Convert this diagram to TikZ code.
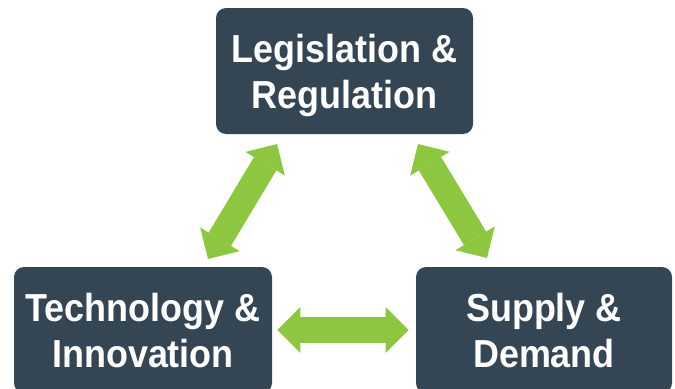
\documentclass[tikz,border=0pt]{standalone}
\usepackage{fontspec}
\newfontfamily\boxfont[FakeStretch=0.92]{Liberation Sans}
\usetikzlibrary{arrows.meta,calc}
\definecolor{boxc}{HTML}{344554}
\definecolor{arrc}{HTML}{8DC63F}
\newcommand\tstrut{\rule{0pt}{31pt}}
\newcommand\bstrut{\rule[-10pt]{0pt}{10pt}}
\begin{document}
\begin{tikzpicture}[x=0.75pt,y=-0.75pt,
  box/.style={fill=boxc, rounded corners=7.5pt, minimum width=192.75pt,
    minimum height=94.5pt, inner sep=0pt, text=white, align=center,
    font=\boxfont\bfseries\fontsize{29.3pt}{34.5pt}\selectfont},
  dbl/.style={draw=arrc, line width=19.5pt,
    {Triangle[length=17.25pt,width=34.5pt,line width=0pt]}-{Triangle[length=17.25pt,width=34.5pt,line width=0pt]}}]
\useasboundingbox (0,0) rectangle (675,389);
\node[box] (leg) at (344.5,71) {\tstrut Legislation \&\\Regulation\bstrut};
\node[box, minimum width=193.5pt] (tech) at (143,330) {\tstrut Technology \&\\Innovation\bstrut};
\node[box, minimum width=192pt] (sup) at (544,330) {\tstrut Supply \&\\Demand\bstrut};
\coordinate (l1) at (208,259);
\coordinate (l2) at (277,144);
\coordinate (r1) at (418,144);
\coordinate (r2) at (487,258);
\draw[dbl] (l1) -- (l2);
\draw[dbl] (r1) -- (r2);
\draw[dbl, shorten <=3.75pt, shorten >=5.25pt] (tech.east) -- (sup.west);
\end{tikzpicture}
\end{document}
